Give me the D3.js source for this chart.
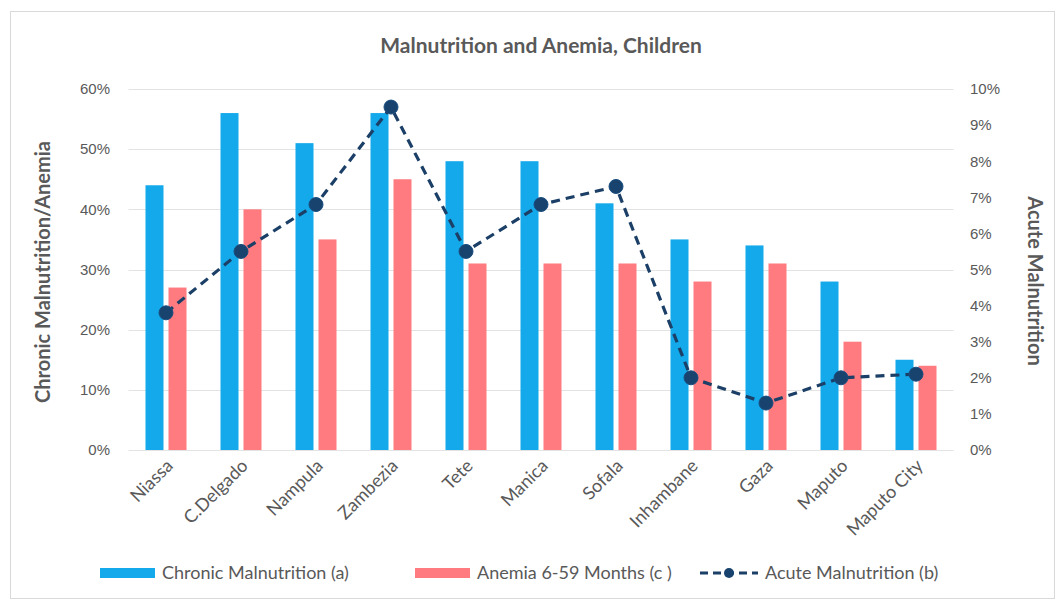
<!DOCTYPE html>
<html>
<head>
<meta charset="utf-8">
<script src="https://cdn.jsdelivr.net/npm/d3@7/dist/d3.min.js"></script>
<style>
  html, body { margin: 0; padding: 0; background: #fff; }
  svg { display: block; font-family: Lato, "Open Sans", sans-serif; }
</style>
</head>
<body>
<svg id="chart" width="1059" height="601"></svg>
<script>
// Provinces and indicator values (percent)
const provinces = ["Niassa", "C.Delgado", "Nampula", "Zambezia", "Tete", "Manica",
                   "Sofala", "Inhambane", "Gaza", "Maputo", "Maputo City"];
const chronic = [44, 56, 51, 56, 48, 48, 41, 35, 34, 28, 15];
const anemia  = [27, 40, 35, 45, 31, 31, 31, 28, 31, 18, 14];
const acute   = [3.8, 5.5, 6.8, 9.5, 5.5, 6.8, 7.3, 2.0, 1.3, 2.0, 2.1];
const leftTicks  = [0, 10, 20, 30, 40, 50, 60];
const rightTicks = [0, 1, 2, 3, 4, 5, 6, 7, 8, 9, 10];
const seriesNames = ["Chronic Malnutrition (a)", "Anemia 6-59 Months (c )", "Acute Malnutrition (b)"];

const blue = "#13A9EA", pink = "#FF7B7F", navy = "#1B3F66", grey = "#595959";

const svg = d3.select("#chart");

// outer frame
svg.append("rect").attr("x", 10.5).attr("y", 11.5).attr("width", 1044).attr("height", 587)
  .attr("fill", "#fff").attr("stroke", "#d9d9d9");

const plot = { left: 128.5, right: 953.5, top: 89, bottom: 450 };

const x = d3.scaleBand().domain(provinces).range([plot.left, plot.right]);
const yL = d3.scaleLinear().domain([0, 60]).range([plot.bottom, plot.top]);
const yR = d3.scaleLinear().domain([0, 10]).range([plot.bottom, plot.top]);

// gridlines
svg.append("g").selectAll("line").data(leftTicks).join("line")
  .attr("x1", plot.left).attr("x2", plot.right)
  .attr("y1", d => Math.round(yL(d)) + 0.5).attr("y2", d => Math.round(yL(d)) + 0.5)
  .attr("stroke", "#e3e3e3").attr("stroke-width", 1);

// left axis
const leftAxis = svg.append("g").attr("transform", `translate(110,0)`)
  .call(d3.axisLeft(yL).tickValues(leftTicks).tickFormat(d => d + "%").tickSize(0).tickPadding(0));
leftAxis.select(".domain").remove();
leftAxis.selectAll("text").attr("fill", grey).style("font-size", "15px");

// right axis
const rightAxis = svg.append("g").attr("transform", `translate(970,0)`)
  .call(d3.axisRight(yR).tickValues(rightTicks).tickFormat(d => d + "%").tickSize(0).tickPadding(0));
rightAxis.select(".domain").remove();
rightAxis.selectAll("text").attr("fill", grey).style("font-size", "15px");

// bars
const barW = 18, gap = 5;
svg.append("g").selectAll("rect").data(provinces).join("rect")
  .attr("x", d => x(d) + x.bandwidth() / 2 - gap / 2 - barW)
  .attr("width", barW)
  .attr("y", (d, i) => yL(chronic[i]))
  .attr("height", (d, i) => yL(0) - yL(chronic[i]))
  .attr("fill", blue);
svg.append("g").selectAll("rect").data(provinces).join("rect")
  .attr("x", d => x(d) + x.bandwidth() / 2 + gap / 2)
  .attr("width", barW)
  .attr("y", (d, i) => yL(anemia[i]))
  .attr("height", (d, i) => yL(0) - yL(anemia[i]))
  .attr("fill", pink);

// acute malnutrition line
const cx = d => x(d) + x.bandwidth() / 2;
const line = d3.line().x(d => cx(d)).y((d, i) => yR(acute[i]));
svg.append("path").datum(provinces).attr("d", line)
  .attr("fill", "none").attr("stroke", navy).attr("stroke-width", 3.2)
  .attr("stroke-dasharray", "9,6");
svg.append("g").selectAll("circle").data(provinces).join("circle")
  .attr("cx", cx).attr("cy", (d, i) => yR(acute[i])).attr("r", 7)
  .attr("fill", "#17436E").attr("stroke", "#1B4E80").attr("stroke-width", 1);

// x labels
svg.append("g").selectAll("text").data(provinces).join("text")
  .attr("transform", d => `translate(${cx(d) + 8},${plot.bottom + 17}) rotate(-45)`)
  .attr("text-anchor", "end").attr("fill", grey).style("font-size", "18px")
  .text(d => d);

// title
svg.append("text").attr("x", 541).attr("y", 53).attr("text-anchor", "middle")
  .attr("fill", grey).style("font-size", "21px").style("font-weight", "bold")
  .text("Malnutrition and Anemia, Children");

// axis titles
svg.append("text").attr("transform", `translate(50,272) rotate(-90)`)
  .attr("text-anchor", "middle").attr("fill", grey).style("font-size", "20px").style("font-weight", "bold")
  .text("Chronic Malnutrition/Anemia");
svg.append("text").attr("transform", `translate(1028,281) rotate(90)`)
  .attr("text-anchor", "middle").attr("fill", grey).style("font-size", "20px").style("font-weight", "bold")
  .text("Acute Malnutrition");

// legend
const legY = 573;
const leg = svg.append("g").style("font-size", "18px").attr("fill", grey);
leg.append("rect").attr("x", 100).attr("y", legY - 5).attr("width", 55).attr("height", 10).attr("fill", blue);
leg.append("text").attr("x", 162).attr("y", legY + 6).text(seriesNames[0]);
leg.append("rect").attr("x", 415).attr("y", legY - 5).attr("width", 55).attr("height", 10).attr("fill", pink);
leg.append("text").attr("x", 477).attr("y", legY + 6).text(seriesNames[1]);
leg.append("line").attr("x1", 700).attr("x2", 758).attr("y1", legY).attr("y2", legY)
  .attr("stroke", navy).attr("stroke-width", 3.2).attr("stroke-dasharray", "8,5");
leg.append("circle").attr("cx", 729).attr("cy", legY).attr("r", 5).attr("fill", "#17436E");
leg.append("text").attr("x", 765).attr("y", legY + 6).text(seriesNames[2]);
</script>
</body>
</html>
